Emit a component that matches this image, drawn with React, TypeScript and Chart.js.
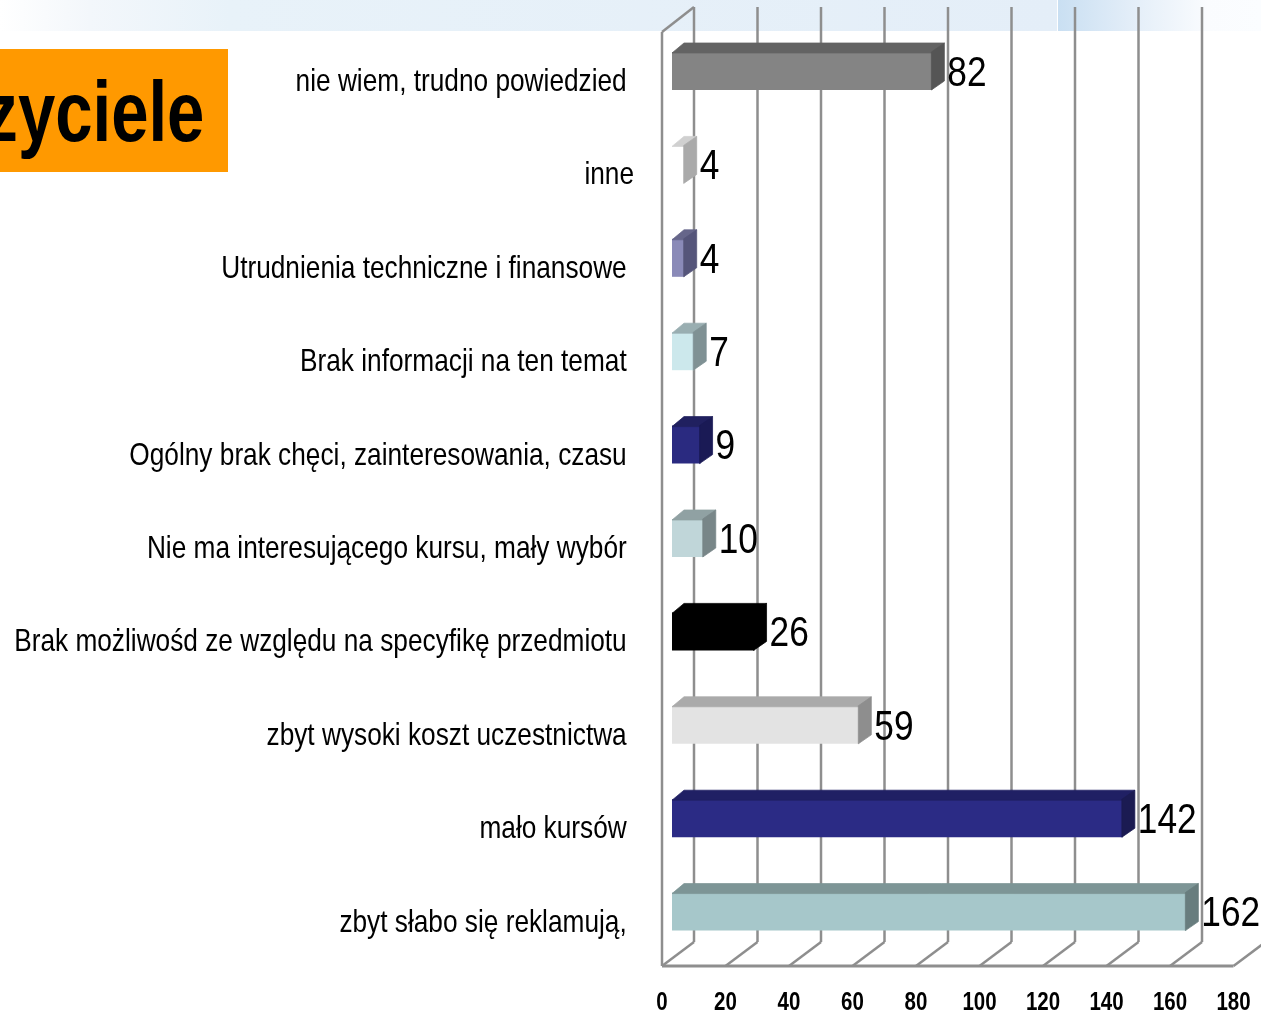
import React, { useEffect, useRef } from "react";
import { Chart, registerables } from "chart.js";

Chart.register(...registerables);

const categories = [
  "nie wiem, trudno powiedzied ",
  "inne",
  "Utrudnienia techniczne i finansowe ",
  "Brak informacji na ten temat ",
  "Ogólny brak chęci, zainteresowania, czasu ",
  "Nie ma interesującego kursu, mały wybór ",
  "Brak możliwośd ze względu na specyfikę przedmiotu ",
  "zbyt wysoki koszt uczestnictwa ",
  "mało kursów ",
  "zbyt słabo się reklamują, ",
];
const values = [82, 4, 4, 7, 9, 10, 26, 59, 142, 162];
const frontColors = ["#848484", "#ffffff", "#8a8ab8", "#cce8ec", "#2a2a80", "#c0d6d9", "#000000", "#e3e3e3", "#2b2b85", "#a6c7ca"];
const topColors = ["#636363", "#d0d0d0", "#66668a", "#99aeb1", "#20205f", "#90a1a3", "#000000", "#aaaaaa", "#202064", "#7d9596"];
const sideColors = ["#555555", "#aaaaaa", "#55557a", "#7f9194", "#1a1a55", "#788688", "#000000", "#8e8e8e", "#1b1b52", "#687d7e"];

const FONT = '"Liberation Sans", Arial, sans-serif';
const TEXT_SQUEEZE = 0.82;
const GRID = "#8e8e8e";
const WALL_DX = 32;
const WALL_DY = 24;
const WALL_TOP = 7;
const BAR_DX = 10;
const BAR_DY = -7.7;
const DEPTH_X = 12;
const DEPTH_Y = 9;
const SEAM = 1;

const poly = (ctx: CanvasRenderingContext2D, pts: number[][], fill: string) => {
  ctx.beginPath();
  pts.forEach((p, i) => (i ? ctx.lineTo(p[0], p[1]) : ctx.moveTo(p[0], p[1])));
  ctx.closePath();
  ctx.fillStyle = fill;
  ctx.fill();
  ctx.strokeStyle = fill;
  ctx.lineWidth = 0.75;
  ctx.stroke();
};

const wallsPlugin = {
  id: "walls",
  beforeDatasetsDraw(chart: any) {
    const { ctx, chartArea, scales } = chart;
    const { top, bottom, left, right } = chartArea;
    ctx.save();
    ctx.strokeStyle = GRID;
    ctx.lineWidth = 2.5;
    const line = (x1: number, y1: number, x2: number, y2: number) => {
      ctx.beginPath();
      ctx.moveTo(x1, y1);
      ctx.lineTo(x2, y2);
      ctx.stroke();
    };
    scales.x.ticks.forEach((t: any) => {
      const x = scales.x.getPixelForValue(t.value);
      line(x + WALL_DX, WALL_TOP, x + WALL_DX, bottom - WALL_DY);
      line(x, bottom, x + WALL_DX, bottom - WALL_DY);
    });
    line(left, top, left, bottom);
    line(left, top, left + WALL_DX, WALL_TOP);
    ctx.lineWidth = 3;
    line(left, bottom, right, bottom);
    ctx.restore();
  },
  beforeDatasetDraw(chart: any) {
    chart.ctx.save();
    chart.ctx.translate(BAR_DX, BAR_DY);
  },
  afterDatasetDraw(chart: any, args: any) {
    const { ctx } = chart;
    ctx.restore();
    args.meta.data.forEach((bar: any, i: number) => {
      const x0 = bar.base + BAR_DX;
      const x1 = bar.x + BAR_DX;
      const y0 = bar.y + BAR_DY - bar.height / 2;
      const y1 = bar.y + BAR_DY + bar.height / 2;
      poly(ctx, [[x0, y0 + SEAM], [x0 + DEPTH_X, y0 - DEPTH_Y], [x1 + DEPTH_X, y0 - DEPTH_Y], [x1, y0 + SEAM]], topColors[i]);
      poly(ctx, [[x1 - SEAM, y0], [x1 + DEPTH_X, y0 - DEPTH_Y], [x1 + DEPTH_X, y1 - DEPTH_Y], [x1 - SEAM, y1]], sideColors[i]);
      ctx.save();
      ctx.fillStyle = "#000000";
      ctx.font = `43px ${FONT}`;
      ctx.textAlign = "left";
      ctx.textBaseline = "middle";
      ctx.fillText(String(values[i]), x1 + DEPTH_X + 3, bar.y + BAR_DY + 3);
      ctx.restore();
    });
  },
};

export default function App() {
  const ref = useRef<HTMLCanvasElement>(null);
  useEffect(() => {
    const canvas = ref.current as HTMLCanvasElement;
    const c2d = canvas.getContext("2d") as any;
    // The reference uses a narrow face: squeeze all canvas text around its anchor.
    const rawFillText = c2d.fillText.bind(c2d);
    c2d.fillText = (text: string, x: number, y: number) => {
      c2d.save();
      c2d.translate(x, y);
      c2d.scale(TEXT_SQUEEZE, 1);
      rawFillText(text, 0, 0);
      c2d.restore();
    };
    const chart = new Chart(canvas, {
      type: "bar",
      data: {
        labels: categories,
        datasets: [
          {
            data: values,
            backgroundColor: frontColors,
            borderWidth: 0,
            categoryPercentage: 1,
            barPercentage: 0.407,
            clip: false,
          } as any,
        ],
      },
      plugins: [wallsPlugin],
      options: {
        indexAxis: "y",
        animation: false,
        responsive: false,
        layout: { padding: { top: 32, right: 27.5, bottom: 0, left: 0 } },
        plugins: { legend: { display: false }, tooltip: { enabled: false }, title: { display: false } },
        scales: {
          x: {
            min: 0,
            max: 180,
            grid: { display: false },
            border: { display: false },
            afterFit: (s: any) => {
              s.height = 44;
              s.paddingLeft = 0;
              s.paddingRight = 0;
              s.paddingTop = 0;
              s.paddingBottom = 0;
            },
            ticks: {
              stepSize: 20,
              autoSkip: false,
              maxRotation: 0,
              padding: 14,
              color: "#000000",
              font: { family: FONT, size: 25, weight: "bold" },
            },
          },
          y: {
            grid: { display: false, drawTicks: false },
            border: { display: false },
            afterFit: (s: any) => {
              s.width = 662;
              s.paddingLeft = 0;
              s.paddingRight = 0;
              s.paddingTop = 0;
              s.paddingBottom = 0;
            },
            ticks: {
              autoSkip: false,
              padding: 28,
              labelOffset: 3.5,
              color: "#000000",
              font: { family: FONT, size: 32 },
            },
          },
        },
      } as any,
    });
    return () => {
      chart.destroy();
      delete c2d.fillText;
    };
  }, []);

  return (
    <div style={{ position: "absolute", left: 0, top: 0, width: 1261, height: 1010, overflow: "hidden", background: "#ffffff" }}>
      <div
        style={{
          position: "absolute", left: 0, top: 0, width: 1057, height: 31,
          background: "linear-gradient(90deg, #ffffff 0, #f3f7fb 90px, #e8f2f9 230px, #e4eef8 1057px)",
        }}
      />
      <div
        style={{
          position: "absolute", left: 1058, top: 0, width: 203, height: 31,
          background: "linear-gradient(90deg, #c9dff2 0, #e2edf8 70px, #fafcfe 150px, #fbfdff 203px)",
        }}
      />
      <div style={{ position: "absolute", left: 0, top: 49, width: 228, height: 123, background: "#ff9900", overflow: "hidden" }}>
        <div
          style={{
            position: "absolute", right: 24, top: 13, whiteSpace: "nowrap",
            fontFamily: FONT, fontWeight: "bold", fontSize: 86, lineHeight: "98px", color: "#000000",
            transform: "scaleX(0.78)", transformOrigin: "right center",
          }}
        >
          Nauczyciele
        </div>
      </div>
      <canvas ref={ref} width={1261} height={1010} style={{ position: "absolute", left: 0, top: 0, display: "block" }} />
    </div>
  );
}
